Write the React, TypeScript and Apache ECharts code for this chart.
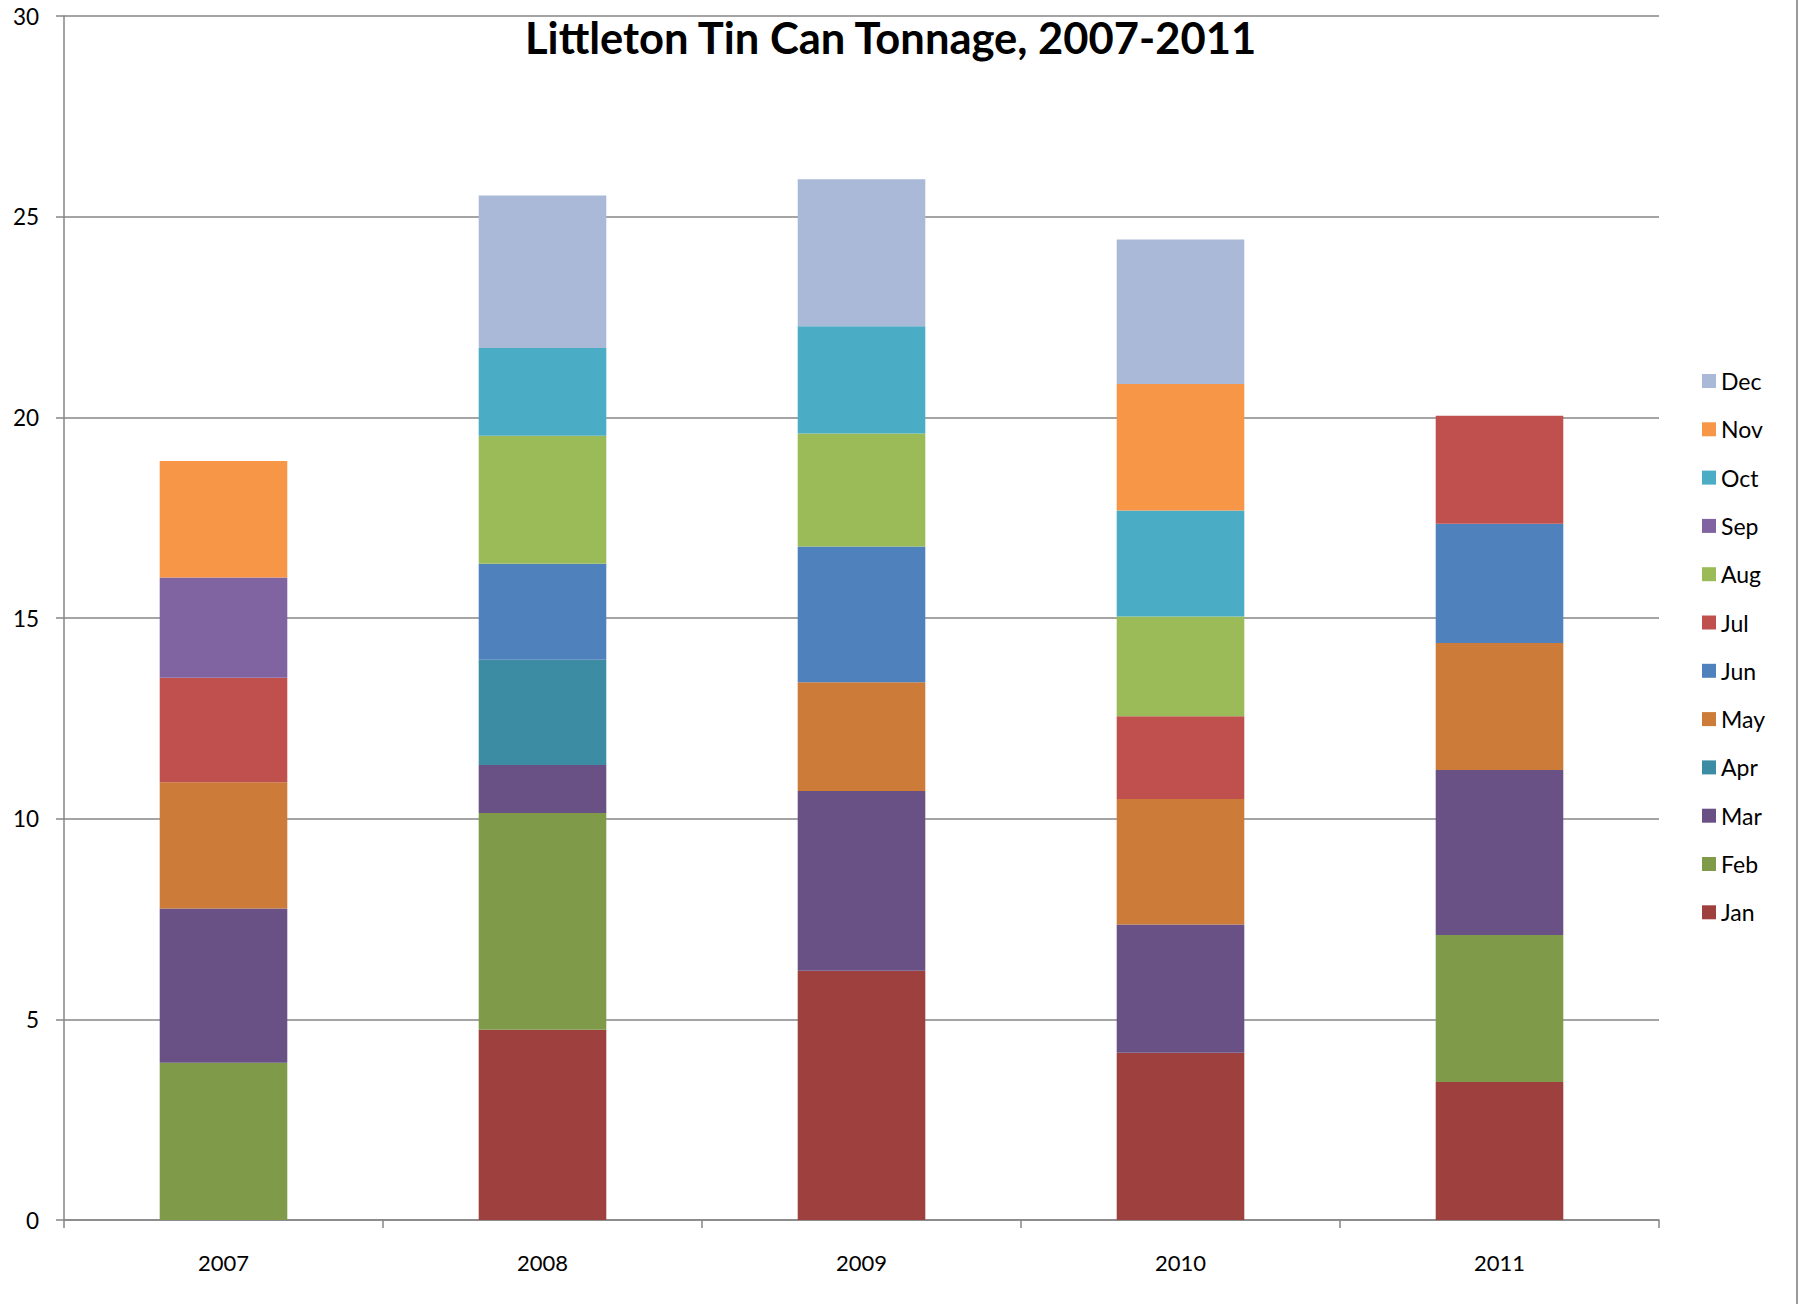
import React, { useEffect, useRef } from "react";
import * as echarts from "echarts";

const years = ["2007", "2008", "2009", "2010", "2011"];
const months = ["Jan", "Feb", "Mar", "Apr", "May", "Jun", "Jul", "Aug", "Sep", "Oct", "Nov", "Dec"];
const yTicks = [0, 5, 10, 15, 20, 25, 30];

const jan = [0, 4.74, 6.21, 4.17, 3.44];
const feb = [3.92, 5.4, 0, 0, 3.66];
const mar = [3.84, 1.2, 4.48, 3.19, 4.11];
const apr = [0, 2.62, 0, 0, 0];
const may = [3.15, 0, 2.71, 3.13, 3.17];
const jun = [0, 2.39, 3.38, 0, 2.97];
const jul = [2.6, 0, 0, 2.06, 2.69];
const aug = [0, 3.19, 2.82, 2.49, 0];
const sep = [2.5, 0, 0, 0, 0];
const oct = [0, 2.19, 2.67, 2.64, 0];
const nov = [2.9, 0, 0, 3.15, 0];
const dec = [0, 3.8, 3.66, 3.6, 0];

const monthValues = [jan, feb, mar, apr, may, jun, jul, aug, sep, oct, nov, dec];
const monthColors = [
  "#9E413E", "#7F9A48", "#695185", "#3C8DA3", "#CC7B38", "#4F81BD",
  "#C0504D", "#9BBB59", "#8064A2", "#4BACC6", "#F79646", "#A9B9D7",
];

const FONT = "Lato, 'Noto Sans', sans-serif";
const GRAY = "#868686";

export default function App() {
  const ref = useRef<HTMLDivElement>(null);
  useEffect(() => {
    document.body.style.margin = "0";
    if (!ref.current) return;
    const chart = echarts.init(ref.current, undefined, { renderer: "svg" });
    const option = {
      animation: false,
      backgroundColor: "#ffffff",
      title: {
        text: "Littleton Tin Can Tonnage, 2007-2011",
        left: 520,
        top: 10,
        textStyle: { fontFamily: FONT, fontWeight: "bold", fontSize: 43.5, color: "#000" },
      },
      grid: { left: 64, right: 144, top: 16, bottom: 84, containLabel: false },
      legend: {
        orient: "vertical",
        left: 1702,
        top: 369,
        padding: 0,
        itemWidth: 14,
        itemHeight: 14,
        itemGap: 24.3,
        icon: "rect",
        data: months.slice().reverse(),
        textStyle: { fontFamily: FONT, fontSize: 23, color: "#000", lineHeight: 24 },
      },
      xAxis: {
        type: "category",
        data: years,
        axisLine: { show: true, lineStyle: { color: GRAY, width: 1.5 } },
        axisTick: { show: true, length: 8, alignWithLabel: false, lineStyle: { color: GRAY, width: 1.5 } },
        axisLabel: { fontFamily: FONT, fontSize: 22, color: "#000", margin: 31 },
        splitLine: { show: false },
      },
      yAxis: {
        type: "value",
        min: yTicks[0],
        max: yTicks[yTicks.length - 1],
        interval: 5,
        axisLine: { show: true, lineStyle: { color: GRAY, width: 1.5 } },
        axisTick: { show: true, length: 8, lineStyle: { color: GRAY, width: 1.5 } },
        axisLabel: { fontFamily: FONT, fontSize: 22.5, color: "#000", margin: 25 },
        splitLine: { show: true, lineStyle: { color: GRAY, width: 1.5 } },
      },
      series: months.map((m, i) => ({
        name: m,
        type: "bar",
        stack: "total",
        barWidth: "40%",
        data: monthValues[i],
        itemStyle: { color: monthColors[i] },
      })),
      graphic: [
        {
          type: "line",
          shape: { x1: 1797, y1: 0, x2: 1797, y2: 1304 },
          style: { stroke: "#9a9a9a", lineWidth: 2 },
        },
      ],
    };
    chart.setOption(option);
    return () => chart.dispose();
  }, []);
  return <div ref={ref} style={{ width: 1803, height: 1304 }} />;
}
